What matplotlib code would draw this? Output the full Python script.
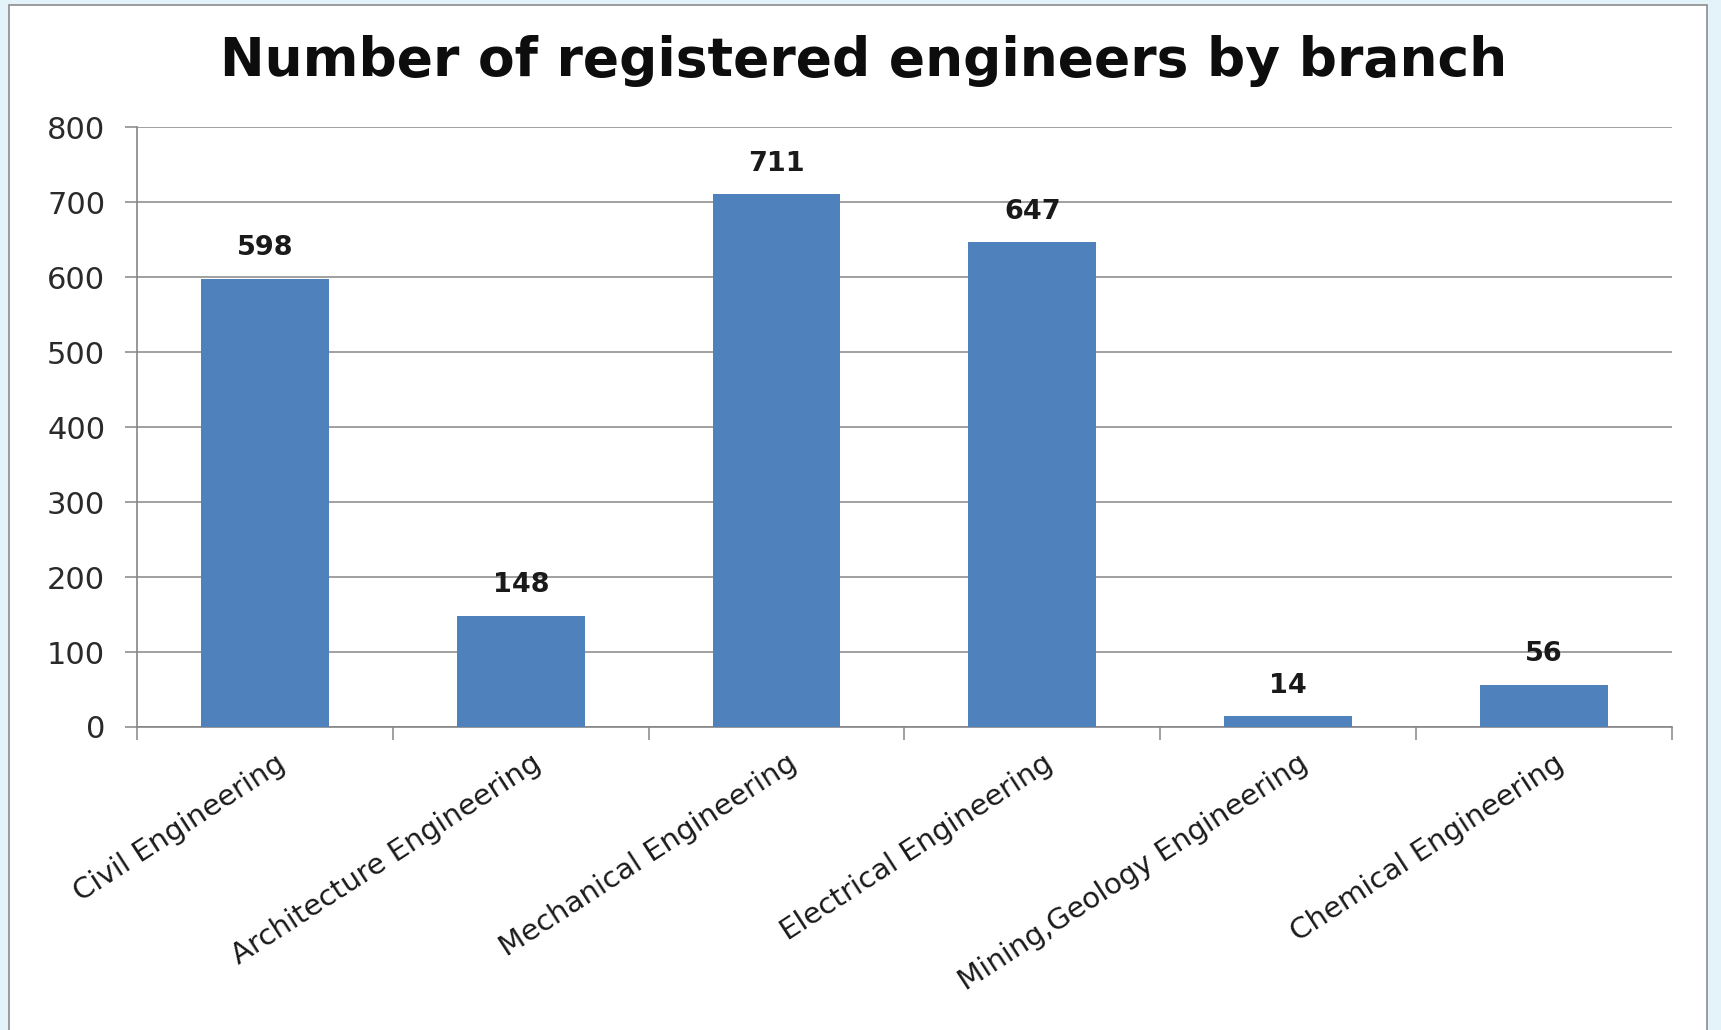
import matplotlib.pyplot as plt
import matplotlib.transforms as mtransforms
from matplotlib.patches import Rectangle

branches = ['Civil Engineering', 'Architecture Engineering', 'Mechanical Engineering',
            'Electrical Engineering', 'Mining,Geology Engineering', 'Chemical Engineering']
engineers = [598, 148, 711, 647, 14, 56]
yticks = [0, 100, 200, 300, 400, 500, 600, 700, 800]

bar_color = '#4F81BD'
grid_color = '#868686'

fig = plt.figure(figsize=(17.21, 10.30), dpi=100)
fig.patch.set_facecolor('#E4F2FA')

# white chart area with thin gray frame
fig.patches.append(Rectangle((0.0055, -0.01), 0.9865, 1.0047, transform=fig.transFigure,
                             facecolor='white', edgecolor='#8C8C8C', linewidth=1.2, zorder=-10))

ax = fig.add_axes([0.0797, 0.2942, 0.8916, 0.5821])
ax.set_facecolor('none')

x = list(range(len(branches)))
ax.bar(x, engineers, width=0.5, color=bar_color, zorder=3)

for xi, v in zip(x, engineers):
    ax.annotate(str(v), (xi, v), xytext=(0, 22), textcoords='offset points',
                ha='center', va='center', fontsize=19.5, fontweight='bold',
                family='DejaVu Sans', color='#1a1a1a')

ax.set_ylim(0, 800)
ax.set_xlim(-0.5, len(branches) - 0.5)
ax.set_yticks(yticks)
ax.set_yticklabels([str(t) for t in yticks], fontsize=22, family='DejaVu Sans',
                   color='#2a2a2a')
ax.yaxis.grid(True, color=grid_color, linewidth=1.1, zorder=0)
ax.set_axisbelow(True)

# major ticks at category boundaries, labels at centres
ax.set_xticks([i - 0.5 for i in range(len(branches) + 1)])
ax.set_xticklabels([])
ax.set_xticks(x, minor=True)
ax.set_xticklabels(branches, minor=True, rotation=33, ha='right',
                   rotation_mode='anchor', fontsize=21, family='DejaVu Sans',
                   color='#1a1a1a')
ax.tick_params(axis='x', which='minor', length=0, pad=16)
ax.tick_params(axis='x', which='major', length=9, width=1.1, color=grid_color, direction='out')
ax.tick_params(axis='y', length=9, width=1.1, color=grid_color, pad=14)

offset = mtransforms.ScaledTranslation(10 / 100, 0, fig.dpi_scale_trans)
for lbl in ax.get_xticklabels(minor=True):
    lbl.set_transform(lbl.get_transform() + offset)

for side in ['top', 'right']:
    ax.spines[side].set_visible(False)
for side in ['left', 'bottom']:
    ax.spines[side].set_color(grid_color)
    ax.spines[side].set_linewidth(1.2)

fig.text(0.502, 0.941, 'Number of registered engineers by branch', ha='center', va='center',
         fontsize=38.5, fontweight='bold', family='DejaVu Sans', color='#0d0d0d')

fig.savefig('out.png', dpi=100, facecolor=fig.get_facecolor())
